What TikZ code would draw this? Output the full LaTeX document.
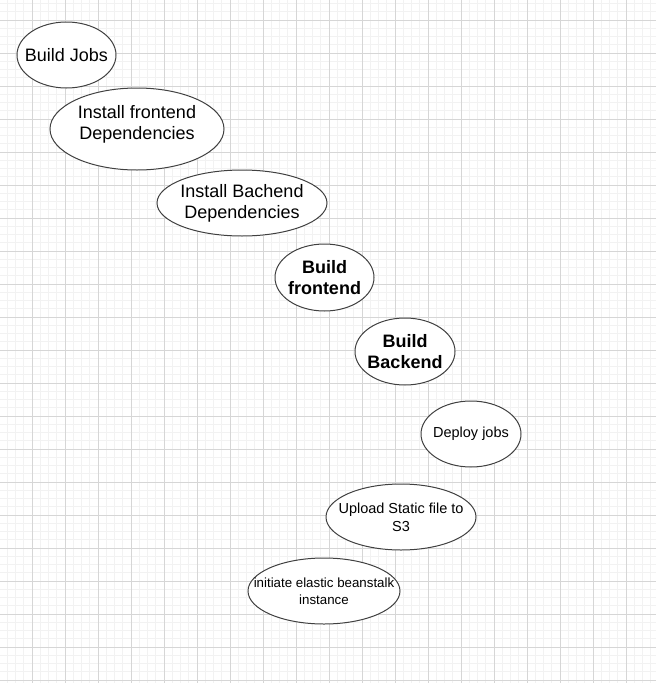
\documentclass[tikz,border=0pt]{standalone}
\usepackage{fontspec}
\setmainfont{Liberation Sans}
\usetikzlibrary{shapes.geometric}
\begin{document}
\begin{tikzpicture}[x=1pt, y=-1pt, line width=1pt,
		job/.style = {draw=black!75, fill=white, ellipse, inner xsep=-30pt, inner ysep=-12pt, align=center},
		big/.style = {font=\fontsize{18}{21}\selectfont},
		bigbold/.style = {font=\fontsize{18}{21}\selectfont\bfseries},
		small/.style = {font=\fontsize{14.5}{18}\selectfont},
		tiny/.style = {font=\fontsize{13.3}{17}\selectfont},
		minor/.style = {draw=black!5},
		major/.style = {draw=black!16}]

		\useasboundingbox (0,0) rectangle (656,683);
		\fill[white] (0,0) rectangle (656,683);
		\begin{scope}
			\clip (0,0) rectangle (656,683);
			% grid
			\foreach \i in {0,...,80}
				\draw[minor] ({-1+8.25*\i},0) -- ({-1+8.25*\i},683);
			\foreach \i in {0,...,84}
				\draw[minor] (0,{-13+8.25*\i}) -- (656,{-13+8.25*\i});
			\foreach \i in {0,...,20}
				\draw[major] ({-1+33*\i},0) -- ({-1+33*\i},683);
			\foreach \i in {0,...,21}
				\draw[major] (0,{-13+33*\i}) -- (656,{-13+33*\i});
		\end{scope}

		\node[job, big, minimum width=99pt, minimum height=66pt] (jobs) at (66.5,55) {Build Jobs};
		\node[job, big, minimum width=174pt, minimum height=82pt, text depth=13pt] (fedeps) at (137,129) {Install frontend\\Dependencies};
		\node[job, big, minimum width=170pt, minimum height=66pt] (bedeps) at (242,203) {Install Bachend\\Dependencies};
		\node[job, bigbold, minimum width=99pt, minimum height=67pt] (febuild) at (324.5,277.5) {Build\\frontend};
		\node[job, bigbold, minimum width=100pt, minimum height=67pt] (bebuild) at (405,351.5) {Build\\Backend};
		\node[job, small, minimum width=100pt, minimum height=66pt] (deploy) at (471,434) {Deploy jobs};
		\node[job, small, minimum width=150pt, minimum height=66pt] (upload) at (401,517) {Upload Static file to\\S3};
		\node[job, tiny, minimum width=152pt, minimum height=66pt] (beanstalk) at (324,591) {initiate elastic beanstalk\\instance};
	\end{tikzpicture}
\end{document}
